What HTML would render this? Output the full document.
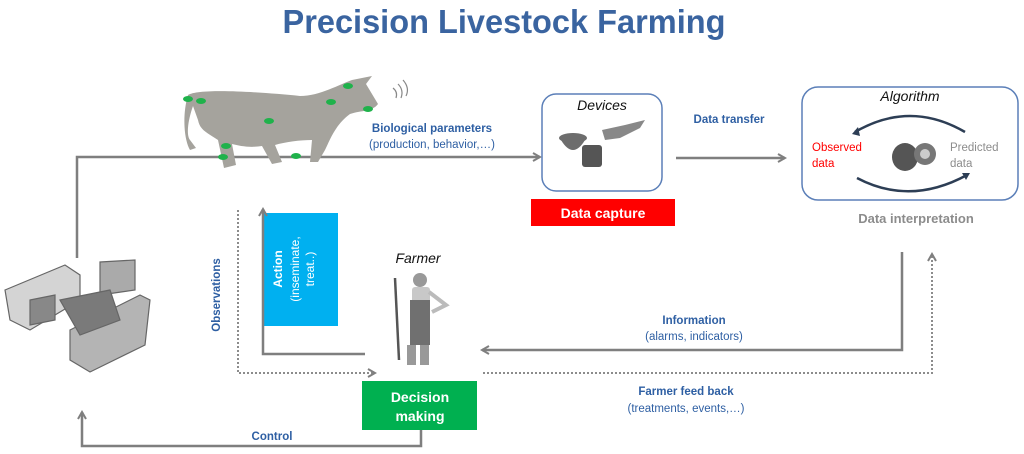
<!DOCTYPE html>
<html><head><meta charset="utf-8"><style>
html,body{margin:0;padding:0;background:#fff;}
svg{display:block;font-family:"Liberation Sans",sans-serif;}
</style></head><body>
<svg width="1024" height="454" viewBox="0 0 1024 454" xmlns="http://www.w3.org/2000/svg">
<defs>
<marker id="ah" markerWidth="10" markerHeight="10" refX="8" refY="5" orient="auto" markerUnits="userSpaceOnUse"><path d="M1,1 L8,5 L1,9" fill="none" stroke="#7f7f7f" stroke-width="2"/></marker>
</defs>
<text x="504" y="33" text-anchor="middle" font-size="33" font-weight="bold" fill="#3a64a0" textLength="443" lengthAdjust="spacingAndGlyphs">Precision Livestock Farming</text>

<path d="M77,258 L77,157 L540,157" fill="none" stroke="#7f7f7f" stroke-width="2.5" marker-end="url(#ah)"/>
<g fill="#a5a39d">
<path d="M188,95 C200,88 260,92 300,96 C320,96 340,84 352,80 L372,76 L366,84 L378,104 C372,112 362,110 350,114 C335,125 330,140 325,150 L318,162 L310,162 L312,140 C300,140 285,142 275,145 L282,162 L272,164 L262,146 C250,148 240,146 232,144 L236,165 L224,168 L218,140 C206,132 200,130 198,120 L193,106 C188,120 186,135 190,140 L196,148 L190,150 C184,140 182,115 188,95 Z"/>
</g>
<g fill="#1fb24b">
<ellipse cx="188" cy="99" rx="5" ry="3"/><ellipse cx="201" cy="101" rx="5" ry="3"/>
<ellipse cx="348" cy="86" rx="5" ry="3"/><ellipse cx="331" cy="102" rx="5" ry="3"/>
<ellipse cx="368" cy="109" rx="5" ry="3"/><ellipse cx="269" cy="121" rx="5" ry="3"/>
<ellipse cx="226" cy="146" rx="5" ry="3"/><ellipse cx="223" cy="157" rx="5" ry="3"/>
<ellipse cx="296" cy="156" rx="5" ry="3"/>
</g>
<g fill="none" stroke="#888" stroke-width="1.2">
<path d="M393,88 Q398,92 396,98"/><path d="M398,84 Q404,90 401,98"/><path d="M403,80 Q410,88 406,96"/>
</g>
<text x="432" y="132" text-anchor="middle" font-size="11.5" font-weight="bold" fill="#2e5fa3">Biological  parameters</text>
<text x="432" y="148" text-anchor="middle" font-size="11.5" fill="#2e5fa3">(production, behavior,…)</text>

<rect x="542" y="94" width="120" height="97" rx="14" fill="#fff" stroke="#5b7fb8" stroke-width="1.5"/>
<text x="602" y="110" text-anchor="middle" font-size="14" font-style="italic" fill="#111">Devices</text>
<g fill="#6d6d6d">
<ellipse cx="573" cy="138" rx="14" ry="5"/><path d="M561,140 Q573,160 585,140 Z"/>
<rect x="582" y="145" width="20" height="22" rx="3" fill="#555"/>
<path d="M602,130 L625,125 L645,120 L640,128 L620,138 L605,140 Z" fill="#888"/>
</g>
<rect x="531" y="199" width="144" height="27" fill="#ff0000"/>
<text x="603" y="218" text-anchor="middle" font-size="14" font-weight="bold" fill="#fff">Data capture</text>

<text x="729" y="123" text-anchor="middle" font-size="11.5" font-weight="bold" fill="#2e5fa3">Data transfer</text>
<path d="M676,158 L785,158" stroke="#7f7f7f" stroke-width="2.5" marker-end="url(#ah)"/>

<rect x="802" y="87" width="216" height="113" rx="16" fill="#fff" stroke="#5b7fb8" stroke-width="1.5"/>
<text x="910" y="101" text-anchor="middle" font-size="14" font-style="italic" fill="#111">Algorithm</text>
<path d="M855,132 Q910,100 965,132" fill="none" stroke="#2d3e55" stroke-width="2.5"/>
<path d="M857,178 Q910,206 967,175" fill="none" stroke="#2d3e55" stroke-width="2.5"/>
<path d="M852,134 L858,127 L860,136 Z" fill="#2d3e55"/>
<path d="M970,173 L962,173 L966,180 Z" fill="#2d3e55"/>
<ellipse cx="905" cy="157" rx="13" ry="14" fill="#555"/>
<circle cx="925" cy="154" r="11" fill="#777"/><circle cx="925" cy="154" r="5" fill="#ccc"/>
<text x="812" y="151" font-size="11.5" fill="#ff0000">Observed</text>
<text x="812" y="167" font-size="11.5" fill="#ff0000">data</text>
<text x="950" y="151" font-size="11.5" fill="#8c8c8c">Predicted</text>
<text x="950" y="167" font-size="11.5" fill="#8c8c8c">data</text>
<text x="916" y="223" text-anchor="middle" font-size="13" font-weight="bold" fill="#8c8c8c">Data interpretation</text>

<path d="M902,252 L902,350 L482,350" fill="none" stroke="#7f7f7f" stroke-width="2.5" marker-end="url(#ah)"/>
<text x="694" y="324" text-anchor="middle" font-size="11.5" font-weight="bold" fill="#2e5fa3">Information</text>
<text x="694" y="340" text-anchor="middle" font-size="11.5" fill="#2e5fa3">(alarms, indicators)</text>
<path d="M483,373 L932,373 L932,254" fill="none" stroke="#8c8c8c" stroke-width="2" stroke-dasharray="2,2" marker-end="url(#ah)"/>
<text x="686" y="395" text-anchor="middle" font-size="11.5" font-weight="bold" fill="#2e5fa3">Farmer feed back</text>
<text x="686" y="412" text-anchor="middle" font-size="11.5" fill="#2e5fa3">(treatments, events,…)</text>

<path d="M238,210 L238,373 L375,373" fill="none" stroke="#8c8c8c" stroke-width="2" stroke-dasharray="2,2" marker-end="url(#ah)"/>
<text transform="translate(220,295) rotate(-90)" text-anchor="middle" font-size="11.5" font-weight="bold" fill="#2e5fa3">Observations</text>
<rect x="264" y="213" width="74" height="113" fill="#00b0f0"/>
<path d="M365,354 L263,354 L263,209" fill="none" stroke="#7f7f7f" stroke-width="2.5" marker-end="url(#ah)"/>
<text transform="translate(282,269) rotate(-90)" text-anchor="middle" font-size="12" font-weight="bold" fill="#fff">Action</text>
<text transform="translate(299,269) rotate(-90)" text-anchor="middle" font-size="12" fill="#fff">(inseminate,</text>
<text transform="translate(314,269) rotate(-90)" text-anchor="middle" font-size="12" fill="#fff">treat..)</text>

<text x="418" y="263" text-anchor="middle" font-size="14" font-style="italic" fill="#111">Farmer</text>
<g>
<circle cx="420" cy="280" r="7" fill="#999"/>
<rect x="412" y="287" width="18" height="30" rx="3" fill="#c8c8c8"/>
<rect x="410" y="300" width="20" height="45" fill="#707070"/>
<rect x="407" y="345" width="9" height="20" fill="#999"/><rect x="420" y="345" width="9" height="20" fill="#999"/>
<line x1="395" y1="278" x2="399" y2="360" stroke="#555" stroke-width="2.5"/>
<path d="M429,292 L446,305 L432,312" fill="none" stroke="#bbb" stroke-width="4"/>
</g>
<rect x="362" y="381" width="115" height="49" fill="#00b050"/>
<text x="420" y="402" text-anchor="middle" font-size="14" font-weight="bold" fill="#fff">Decision</text>
<text x="420" y="421" text-anchor="middle" font-size="14" font-weight="bold" fill="#fff">making</text>

<path d="M421,430 L421,446 L82,446 L82,412" fill="none" stroke="#7f7f7f" stroke-width="2.5" marker-end="url(#ah)"/>
<text x="272" y="440" text-anchor="middle" font-size="11.5" font-weight="bold" fill="#2e5fa3">Control</text>

<g stroke="#666" stroke-width="1.2">
<path d="M5,290 L65,265 L80,275 L80,300 L30,330 L10,320 Z" fill="#d4d4d4"/>
<path d="M100,262 L135,260 L135,290 L100,295 Z" fill="#aaa"/>
<path d="M70,330 L140,295 L150,300 L145,345 L90,372 L70,360 Z" fill="#b4b4b4"/>
<path d="M60,300 L110,290 L120,320 L80,335 Z" fill="#7a7a7a"/>
<path d="M30,300 L55,295 L55,320 L30,325 Z" fill="#888"/>
</g>
</svg>
</body></html>
